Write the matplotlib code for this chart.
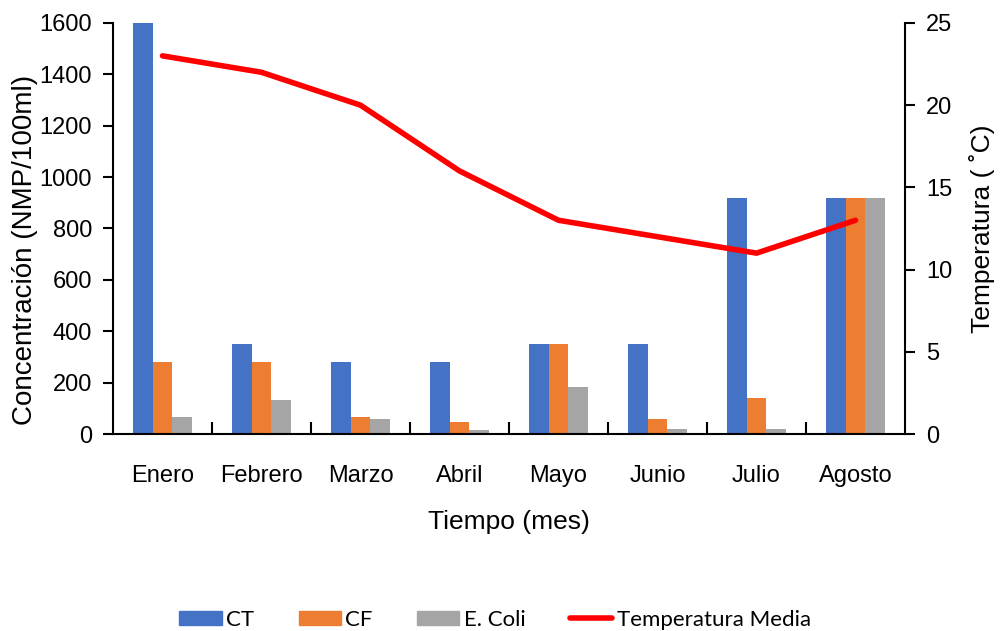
import numpy as np
import matplotlib.pyplot as plt
from matplotlib.patches import Patch
from matplotlib.lines import Line2D

# Datos mensuales
meses = ['Enero', 'Febrero', 'Marzo', 'Abril', 'Mayo', 'Junio', 'Julio', 'Agosto']
ct = [1600, 350, 280, 280, 350, 350, 920, 920]
cf = [280, 280, 66, 46, 350, 58, 140, 920]
e_coli = [66, 132, 58, 15, 183, 20, 20, 920]
temperatura = [23, 22, 20, 16, 13, 12, 11, 13]

plt.rcParams['font.family'] = ['Liberation Sans', 'DejaVu Sans']

azul = '#4472C4'
naranja = '#ED7D31'
gris = '#A5A5A5'

fig = plt.figure(figsize=(10, 6.31), dpi=100)
ax = fig.add_axes([0.113, 0.3122, 0.792, 0.6514])

x = np.arange(len(meses))
ancho = 0.2
ax.bar(x - ancho, ct, ancho, color=azul)
ax.bar(x, cf, ancho, color=naranja)
ax.bar(x + ancho, e_coli, ancho, color=gris)

ax.set_xlim(-0.5, len(meses) - 0.5)
ax.set_ylim(0, 1600)
ax.set_yticks(range(0, 1601, 200))
ax.set_xticks(x)
ax.set_xticklabels(meses)
ax.set_xticks(np.arange(0.5, len(meses) - 0.5), minor=True)
ax.tick_params(axis='x', which='major', length=0, pad=22, labelsize=17)
ax.tick_params(axis='x', which='minor', length=9, width=1.5, direction='in')
ax.tick_params(axis='y', length=7, width=1.5, labelsize=17, pad=8)
ax.spines['top'].set_visible(False)
ax.spines['right'].set_visible(False)
for s in ['left', 'bottom']:
    ax.spines[s].set_linewidth(1.5)
ax.set_ylabel('Concentración (NMP/100ml)', fontsize=20, labelpad=1)
ax.yaxis.label.set_y(0.448)
ax.set_xlabel('Tiempo (mes)', fontsize=19, labelpad=17)

# Eje secundario para la temperatura
ax2 = ax.twinx()
ax2.plot(x, temperatura, color='#FF0000', linewidth=4, solid_capstyle='round')
ax2.set_ylim(0, 25)
ax2.set_yticks(range(0, 26, 5))
ax2.tick_params(axis='y', length=7, width=1.5, labelsize=17, pad=8)
ax2.spines['top'].set_visible(False)
ax2.spines['left'].set_visible(False)
ax2.spines['bottom'].set_visible(False)
ax2.spines['right'].set_linewidth(1.5)
ax2.set_ylabel('Temperatura ( ˚C)', fontsize=19, labelpad=12)

handles = [
    Patch(color=azul),
    Patch(color=naranja),
    Patch(color=gris),
    Line2D([0], [0], color='#FF0000', linewidth=4, solid_capstyle='round'),
]
etiquetas = ['CT', 'CF', 'E. Coli', 'Temperatura Media']
fig.legend(handles, etiquetas, loc='lower center', bbox_to_anchor=(0.495, -0.03), ncol=4,
           frameon=False, prop={'family': 'Lato', 'size': 16},
           handlelength=1.9, handleheight=0.63, handletextpad=0.2, columnspacing=2.0)

fig.savefig('out.png', dpi=100)
